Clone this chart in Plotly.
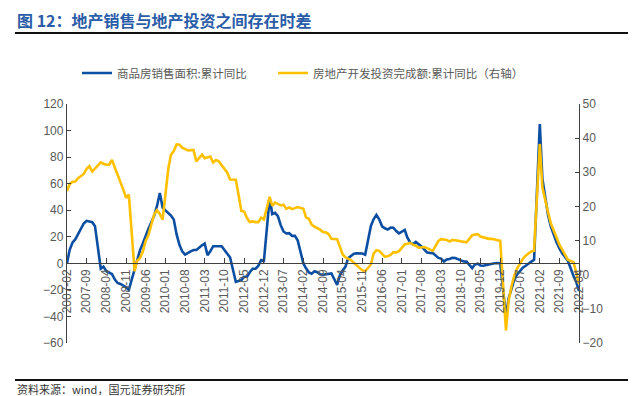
import plotly.graph_objects as go

# ---------------- data ----------------
years = list(range(2007, 2023))
# monthly points Feb..Dec of each year (Jan not published), 2022 until Apr
sales_area = {
    2007: [0, 10, 15.5, 18, 22, 26, 30, 32, 31.5, 31, 28],
    2008: [-4, -2.5, -6, -7, -8, -12, -14.8, -15.5, -16.6, -18, -20],
    2009: [-4, 3, 10, 15, 21, 26, 31, 36, 43, 53, 42],
    2010: [38, 36, 33, 22, 14, 9, 6.5, 8, 9, 10, 10.1],
    2011: [13.6, 14.9, 6.2, 9.0, 12.9, 13, 13, 12.9, 10.1, 7.1, 4.4],
    2012: [-14, -13.6, -12.6, -10.1, -10, -6.7, -4.1, -4, -1.9, 2.4, 1.8],
    2013: [49.5, 37.1, 38, 35.6, 28.7, 24, 22.5, 22.7, 20.7, 20.8, 17.3],
    2014: [-0.1, -3.8, -6.8, -7.8, -6, -6.7, -8.3, -8.6, -8.3, -8.2, -7.6],
    2015: [-16.3, -9.2, -5.4, -2.6, 3.9, 5.5, 7.2, 7.5, 7.2, 7.4, 6.5],
    2016: [28.2, 33.1, 36.5, 33.2, 27.9, 26.4, 25.5, 26.9, 26.8, 24.3, 22.5],
    2017: [25.1, 19.5, 15.7, 14.3, 16.1, 14.7, 12.7, 10.3, 8.2, 7.9, 7.7],
    2018: [4.1, 3.6, 1.3, 2.9, 3.3, 4.2, 4.0, 2.9, 2.2, 1.4, 1.3],
    2019: [-3.6, -0.9, -0.3, -1.6, -1.8, -1.3, -0.6, -0.1, 0.1, 0.2, -0.1],
    2020: [-39.9, -26.3, -19.3, -12.3, -8.4, -5.8, -3.3, -1.8, 0, 1.3, 2.6],
    2021: [104.9, 63.8, 48.1, 36.4, 27.7, 21.5, 15.9, 11.3, 7.5, 4.8, 1.9],
    2022: [-9.6, -13.8, -20.9],
}
investment = {
    2007: [24.5, 26.5, 27.2, 27.3, 28.3, 28.8, 29.5, 31, 31.8, 30.2, 31],
    2008: [32.9, 32.5, 32.2, 32.2, 33.6, 31.5, 29.5, 27, 25, 22.5, 23.5],
    2009: [1.0, 4.1, 4.9, 6.8, 9.9, 11.6, 14.7, 17.7, 18.9, 17.8, 16.1],
    2010: [31.1, 35.1, 36.2, 38.2, 38.1, 37.2, 36.7, 36.4, 36.5, 36.5, 33.2],
    2011: [35.2, 34.1, 34.3, 34.6, 32.9, 33.6, 33.2, 32.0, 31.1, 29.9, 27.9],
    2012: [27.8, 23.5, 18.7, 18.5, 16.6, 15.4, 15.6, 15.4, 15.4, 16.7, 16.2],
    2013: [22.8, 20.2, 21.1, 20.6, 20.3, 20.5, 19.3, 19.7, 19.2, 19.5, 19.8],
    2014: [19.3, 16.8, 16.4, 14.7, 14.1, 13.7, 13.2, 12.5, 12.4, 11.9, 10.5],
    2015: [10.4, 8.5, 6.0, 5.1, 4.6, 4.3, 3.5, 2.6, 2.0, 1.3, 1.0],
    2016: [3.0, 6.2, 7.2, 7.0, 6.1, 5.3, 5.4, 5.8, 6.6, 6.5, 6.9],
    2017: [8.9, 9.1, 9.3, 8.8, 8.5, 7.9, 7.9, 8.1, 7.8, 7.5, 7.0],
    2018: [9.9, 10.4, 10.3, 10.2, 9.7, 10.2, 10.1, 9.9, 9.7, 9.7, 9.5],
    2019: [11.6, 11.8, 11.9, 11.2, 10.9, 10.6, 10.5, 10.5, 10.3, 10.2, 9.9],
    2020: [-16.3, -7.7, -3.3, -0.3, 1.9, 3.4, 4.6, 5.6, 6.3, 6.8, 7.0],
    2021: [38.3, 25.6, 21.6, 18.3, 15.0, 12.7, 10.9, 8.8, 7.2, 6.0, 4.4],
    2022: [3.7, 0.7, -2.7],
}
series_names = ["商品房销售面积:累计同比", "房地产开发投资完成额:累计同比（右轴）"]
title_text = "图 12：地产销售与地产投资之间存在时差"
source_text = "资料来源：wind，国元证券研究所"

def build(d):
    xs, ys = [], []
    for y in years:
        for i, v in enumerate(d[y]):
            xs.append(f"{y}-{i + 2:02d}-01")
            ys.append(v)
    return xs, ys

x1, y1 = build(sales_area)
x2, y2 = build(investment)

BLUE = "#0B4EA2"
GOLD = "#FFC000"
GRAY = "#595959"
AXIS = "#404040"
NUMFONT = "Liberation Sans, Arial, sans-serif"
CJK = "Noto Sans CJK SC, sans-serif"

# the page body adds an 8px offset, so the figure is laid out in page px - 8
OFF = 8
W, H = 636 - OFF, 396 - OFF
ML, MR, MT, MB = 67 - OFF, 57, 104 - OFF, 53

def px_x(p):
    return (p - OFF - ML) / (W - ML - MR)

def px_y(p):
    return 1 - (p - OFF - MT) / (H - MT - MB)

fig = go.Figure()
fig.add_trace(go.Scatter(x=x1, y=y1, mode="lines", name=series_names[0],
                         line=dict(color=BLUE, width=2.6), yaxis="y",
                         legend="legend"))
fig.add_trace(go.Scatter(x=x2, y=y2, mode="lines", name=series_names[1],
                         line=dict(color=GOLD, width=2.6), yaxis="y2",
                         legend="legend2"))

legend_common = dict(orientation="h", xanchor="left", yanchor="middle",
                     font=dict(family=CJK, size=11.5, color=GRAY),
                     bgcolor="rgba(0,0,0,0)", borderwidth=0)

fig.update_layout(
    width=W, height=H,
    margin=dict(l=ML, r=MR, t=MT, b=MB, autoexpand=False),
    paper_bgcolor="white", plot_bgcolor="white",
    showlegend=True,
    legend=dict(x=px_x(77), y=px_y(73), **legend_common),
    legend2=dict(x=px_x(273), y=px_y(73), **legend_common),
    xaxis=dict(type="date", range=["2007-02-01", "2022-04-01"],
               tick0="2007-02-01", dtick="M7", tickformat="%Y-%m",
               tickangle=-90, anchor="free", position=1 / 3,
               showline=True, linecolor=AXIS, linewidth=1.3,
               ticks="inside", ticklen=5, tickcolor=AXIS,
               showgrid=False, zeroline=False,
               tickfont=dict(family=NUMFONT, size=12, color=GRAY)),
    yaxis=dict(range=[-60, 120], dtick=20, showgrid=False, zeroline=False,
               showline=True, linecolor=AXIS, linewidth=1.3,
               ticks="inside", ticklen=4, tickcolor=AXIS,
               tickfont=dict(family=NUMFONT, size=12, color=GRAY)),
    yaxis2=dict(range=[-20, 50], dtick=10, overlaying="y", side="right",
                showgrid=False, zeroline=False,
                showline=True, linecolor=AXIS, linewidth=1.3,
                ticks="inside", ticklen=4, tickcolor=AXIS,
                tickfont=dict(family=NUMFONT, size=12, color=GRAY)),
)

fig.add_annotation(text=f"<b>{title_text}</b>", xref="paper", yref="paper",
                   x=px_x(15), y=px_y(20), xanchor="left", yanchor="middle",
                   showarrow=False, font=dict(family=CJK, size=16, color="#2A5CA8"))
fig.add_shape(type="line", xref="paper", yref="paper",
              x0=px_x(15), x1=px_x(640), y0=px_y(33), y1=px_y(33),
              line=dict(color="#111111", width=2))
fig.add_shape(type="line", xref="paper", yref="paper",
              x0=px_x(15), x1=px_x(640), y0=px_y(380), y1=px_y(380),
              line=dict(color="#111111", width=2))
fig.add_annotation(text=source_text, xref="paper", yref="paper",
                   x=px_x(15), y=px_y(389), xanchor="left", yanchor="middle",
                   showarrow=False, font=dict(family=CJK, size=11, color="#333333"))

fig.write_html("out.html")
